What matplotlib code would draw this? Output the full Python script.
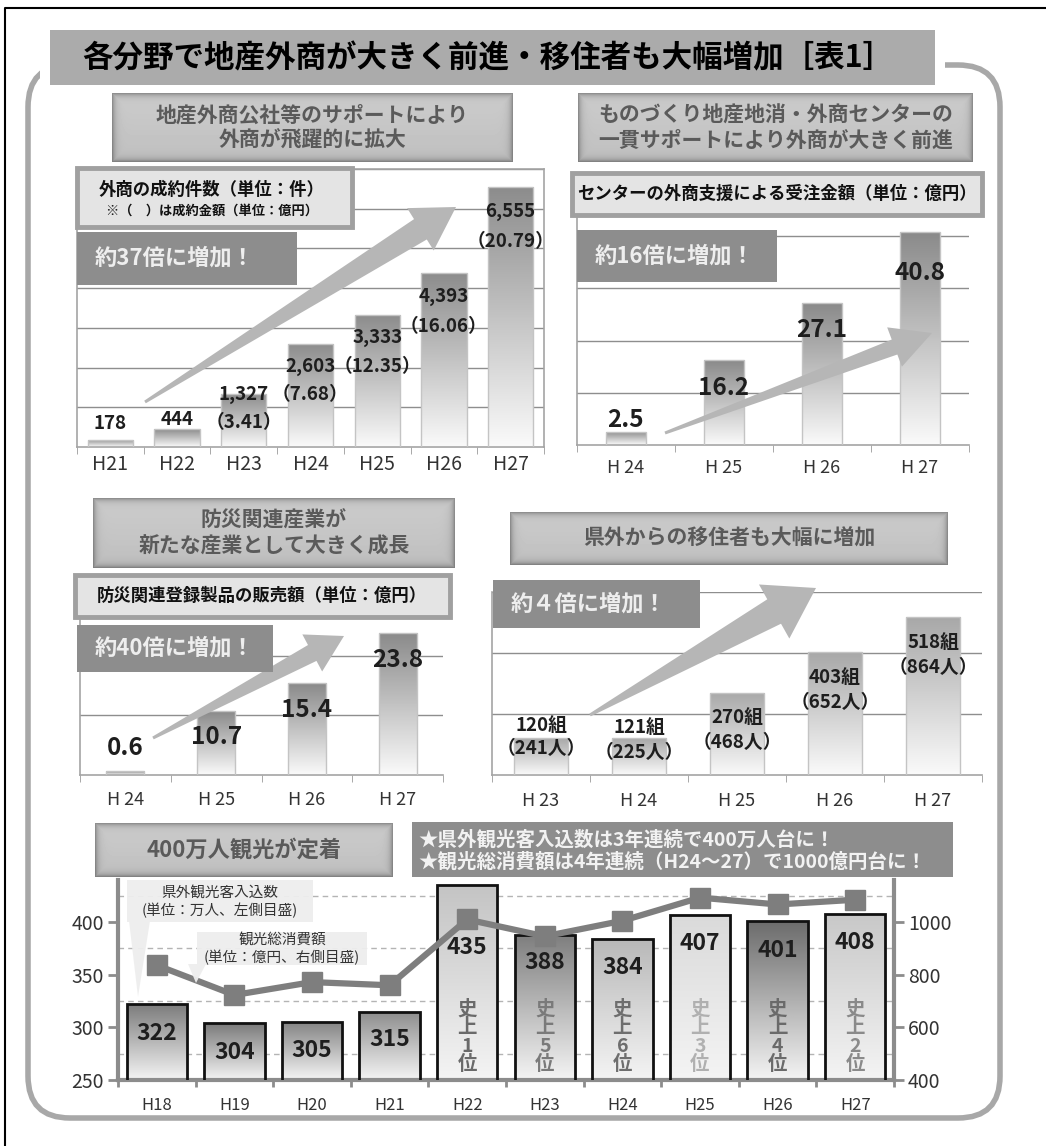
import numpy as np
import matplotlib
matplotlib.use('Agg')
import matplotlib.pyplot as plt
from matplotlib.patches import Rectangle, Polygon, FancyBboxPatch
from matplotlib.colors import LinearSegmentedColormap
from matplotlib.transforms import Affine2D

plt.rcParams['font.family'] = ['Noto Sans CJK JP', 'DejaVu Sans']

# ---- データ ----
# 外商の成約件数（件）と成約金額（億円）
p1_years = ['H21', 'H22', 'H23', 'H24', 'H25', 'H26', 'H27']
p1_counts = [178, 444, 1327, 2603, 3333, 4393, 6555]
p1_amounts = [None, None, 3.41, 7.68, 12.35, 16.06, 20.79]

# センターの外商支援による受注金額（億円）
p2_years = ['H 24', 'H 25', 'H 26', 'H 27']
p2_orders = [2.5, 16.2, 27.1, 40.8]

# 防災関連登録製品の販売額（億円）
p3_years = ['H 24', 'H 25', 'H 26', 'H 27']
p3_sales = [0.6, 10.7, 15.4, 23.8]

# 県外からの移住者（組・人）
p4_years = ['H 23', 'H 24', 'H 25', 'H 26', 'H 27']
p4_groups = [120, 121, 270, 403, 518]
p4_people = [241, 225, 468, 652, 864]

# 観光：県外観光客入込数（万人）と観光総消費額（億円）
p5_years = ['H18', 'H19', 'H20', 'H21', 'H22', 'H23', 'H24', 'H25', 'H26', 'H27']
p5_visitors = [322, 304, 305, 315, 435, 388, 384, 407, 401, 408]
p5_spending = [836, 723, 772, 760, 1010, 946, 1005, 1093, 1067, 1085]
p5_rank = [None, None, None, None, '1', '5', '6', '3', '4', '2']

# ---- レイアウト ----
W, H = 1046, 1146
fig = plt.figure(figsize=(W / 100, H / 100), dpi=100)
fig.patch.set_facecolor('white')
px = Affine2D().scale(1 / W, -1 / H).translate(0, 1) + fig.transFigure


def rect(x0, y0, x1, y1):
    return [x0 / W, 1 - y1 / H, (x1 - x0) / W, (y1 - y0) / H]


def overlay(z):
    a = fig.add_axes([0, 0, 1, 1], zorder=z)
    a.set_xlim(0, W)
    a.set_ylim(H, 0)
    a.axis('off')
    a.patch.set_alpha(0)
    return a


bg = overlay(0)
bg.plot([5, 5, W], [H, 8, 8], color='black', lw=1.5)
bg.add_patch(FancyBboxPatch((28, 65), 972, 1053, boxstyle='round,pad=0,rounding_size=42',
                            fc='none', ec='#a8a8a8', lw=4))
bg.add_patch(Rectangle((40, 26), 905, 64, fc='white', ec='none'))
bg.add_patch(Rectangle((50, 30), 885, 55, fc='#ababab', ec='none'))
bg.text(488, 58, '各分野で地産外商が大きく前進・移住者も大幅増加［表1］', ha='center', va='center',
        fontsize=22, fontweight='bold', color='black')


def header(x0, y0, x1, y1, text, size=15):
    a = fig.add_axes(rect(x0, y0, x1, y1))
    w, h = int(x1 - x0), int(y1 - y0)
    yy, xx = np.mgrid[0:h, 0:w]
    d = np.minimum(np.minimum(xx, w - 1 - xx), np.minimum(yy, h - 1 - yy))
    shade = 0.80 - 0.24 * np.exp(-d / 3.0) - 0.05 * yy / h
    a.imshow(shade, cmap='gray', vmin=0, vmax=1, aspect='auto', interpolation='bilinear')
    a.axis('off')
    a.text(0.5, 0.5, text, transform=a.transAxes, ha='center', va='center', fontsize=size,
           fontweight='bold', color='#5a5a5a', linespacing=1.25)


header(112, 93, 513, 162, '地産外商公社等のサポートにより\n外商が飛躍的に拡大')
header(578, 93, 973, 162, 'ものづくり地産地消・外商センターの\n一貫サポートにより外商が大きく前進')
header(93, 498, 455, 568, '防災関連産業が\n新たな産業として大きく成長')
header(510, 512, 948, 565, '県外からの移住者も大幅に増加')
header(95, 823, 393, 877, '400万人観光が定着', size=16)


def grad_bars(ax, vals, width, tops, bottom='#fafafa', edge='#c4c4c4', lw=1.0):
    x = np.arange(len(vals))
    bars = ax.bar(x, vals, width, color='none', edgecolor=edge, linewidth=lw, zorder=3)
    y_floor = ax.get_ylim()[0]
    for b, top in zip(bars, tops):
        cm = LinearSegmentedColormap.from_list('g', [bottom, top])
        y0 = max(b.get_y(), y_floor)
        im = ax.imshow(np.linspace(0, 1, 128).reshape(-1, 1), cmap=cm, origin='lower',
                       aspect='auto', interpolation='bilinear', zorder=2,
                       extent=[b.get_x(), b.get_x() + b.get_width(), y0, b.get_y() + b.get_height()])
        im.set_clip_path(b)
    return bars


def arrow(ax, x0, y0, x1, y1, w0, w1, hw, hl, color='#b6b6b6'):
    p0 = np.array([x0, y0], float)
    p1 = np.array([x1, y1], float)
    d = (p1 - p0) / np.hypot(*(p1 - p0))
    n = np.array([-d[1], d[0]])
    b = p1 - d * hl
    pts = [p0 + n * w0 / 2, b + n * w1 / 2, b + n * hw / 2, p1,
           b - n * hw / 2, b - n * w1 / 2, p0 - n * w0 / 2]
    ax.add_patch(Polygon(pts, closed=True, transform=px, fc=color, ec='none',
                         zorder=4, clip_on=False))


def style(ax, labels, ylim, yticks, pad, fs=13, spines=('left', 'bottom')):
    n = len(labels)
    ax.set_xlim(-0.5, n - 0.5)
    ax.set_ylim(*ylim)
    ax.set_yticks(yticks)
    ax.yaxis.grid(True, color='#8e8e8e', lw=1)
    ax.set_axisbelow(True)
    ax.tick_params(axis='y', length=0, labelleft=False)
    ax.set_xticks(range(n))
    ax.set_xticklabels(labels, fontsize=fs, color='#333333')
    ax.set_xticks(np.arange(-0.5, n), minor=True)
    ax.tick_params(axis='x', which='major', length=0, pad=pad)
    ax.tick_params(axis='x', which='minor', length=5, color='#9a9a9a', direction='out')
    for s in ax.spines:
        ax.spines[s].set_visible(s in spines)
        ax.spines[s].set_color('#a4a4a4')
        ax.spines[s].set_linewidth(1.2)


def label(ax, i, v, s, off, fs, color='#1e1e1e'):
    ax.annotate(s, (i, v), xytext=(0, off), textcoords='offset pixels', ha='center',
                va='center', fontsize=fs, fontweight='bold', color=color, zorder=6)


# ---- パネル1 ----
ax1 = fig.add_axes(rect(77, 169, 544, 447))
style(ax1, p1_years, (0, 7000), range(1000, 7001, 1000), 5, fs=14,
      spines=('left', 'bottom', 'right', 'top'))
grad_bars(ax1, p1_counts, 0.68, ['#8c8c8c'] * 7)
arrow(ax1, 145, 402, 456, 207, 3, 24, 50, 42)
num_off = [16, 10, 0, -23, -23, -24, -25]
par_off = [0, 0, -28, -51, -52, -54, -55]
for i, (c, a) in enumerate(zip(p1_counts, p1_amounts)):
    label(ax1, i, c, f'{c:,}', num_off[i], 13.5)
    if a is not None:
        label(ax1, i, c, f'（{a:.2f}）', par_off[i], 13.5)

# ---- パネル2 ----
ax2 = fig.add_axes(rect(577, 210, 969, 445))
style(ax2, p2_years, (0, 45), [10, 20, 30, 40], 10, fs=13)
grad_bars(ax2, p2_orders, 0.40, ['#8a8a8a'] * 4)
arrow(ax2, 665, 433, 932, 333, 3, 16, 42, 40)
for i, (v, off) in enumerate(zip(p2_orders, [12, -28, -27, -41])):
    label(ax2, i, v, f'{v}', off, 17.5)

# ---- パネル3 ----
ax3 = fig.add_axes(rect(80, 596, 443, 775))
style(ax3, p3_years, (0, 30), [10, 20, 30], 11.5, fs=13)
grad_bars(ax3, p3_sales, 0.42, ['#8a8a8a'] * 4)
arrow(ax3, 153, 738, 344, 636, 3, 18, 42, 36)
for i, (v, off) in enumerate(zip(p3_sales, [23, -26, -27, -27])):
    label(ax3, i, v, f'{v}', off, 17.5)

# ---- パネル4 ----
ax4 = fig.add_axes(rect(492, 592, 982, 775))
style(ax4, p4_years, (0, 600), [200, 400, 600], 12.5, fs=13)
grad_bars(ax4, p4_groups, 0.56, ['#a8a8a8'] * 5)
arrow(ax4, 590, 715, 816, 588, 3, 28, 62, 48)
g_off = [13, 11, -25, -25, -25]
p_off = [-10, -14, -50, -50, -50]
for i, (g, p) in enumerate(zip(p4_groups, p4_people)):
    label(ax4, i, g, f'{g}組', g_off[i], 13.5)
    label(ax4, i, g, f'（{p}人）', p_off[i], 13.5)

# ---- パネル5 ----
ax5 = fig.add_axes(rect(118, 880, 894, 1080))
ax5.set_xlim(-0.5, 9.5)
ax5.set_ylim(250, 440)
right_lim = (400, 1160)
for r in [500, 700, 900, 1100]:
    ax5.axhline(250 + (r - right_lim[0]) * (440 - 250) / (right_lim[1] - right_lim[0]),
                color='#b4b4b4', lw=1, ls=(0, (4, 3)), zorder=1)
tops5 = ['#7c7c7c', '#7a7a7a', '#858585', '#8d8d8d', '#c4c4c4',
         '#7e7e7e', '#b8b8b8', '#dadada', '#6c6c6c', '#c8c8c8']
grad_bars(ax5, p5_visitors, 0.78, tops5, bottom='#f4f4f4', edge='#111111', lw=2)
ax5.set_ylim(250, 440)
v_off = [-29, -29, -28, -28, -62, -28, -29, -29, -29, -29]
rank_col = ['#6a6a6a', '#7a7a7a', '#6e6e6e', '#b0b0b0', '#6a6a6a', '#8a8a8a']
for i, v in enumerate(p5_visitors):
    label(ax5, i, v, str(v), v_off[i], 16.5)
    if p5_rank[i] is not None:
        ax5.text(i, 291, '史\n上\n' + p5_rank[i] + '\n位', ha='center', va='center',
                 fontsize=14, fontweight='bold', color=rank_col[i - 4], linespacing=0.95, zorder=6)
ax5.set_yticks([250, 300, 350, 400])
ax5.set_xticks(range(10))
ax5.set_xticklabels(p5_years, fontsize=12, color='#333333')
ax5.set_xticks(np.arange(-0.5, 10), minor=True)
ax5.tick_params(axis='x', which='major', length=0, pad=12.5)
ax5.tick_params(axis='x', which='minor', length=5, width=2, color='#8c8c8c')
ax5.tick_params(axis='y', length=7, width=2, color='#8c8c8c', labelsize=14, labelcolor='#333333', pad=3)
for s in ['top', 'right']:
    ax5.spines[s].set_visible(False)
for s in ['left', 'bottom']:
    ax5.spines[s].set_color('#8c8c8c')
    ax5.spines[s].set_linewidth(3)

ax5r = ax5.twinx()
ax5r.plot(range(10), p5_spending, color='#7e7e7e', lw=4.5, marker='s', ms=14, zorder=5)
ax5r.set_ylim(*right_lim)
ax5r.set_yticks([400, 600, 800, 1000])
ax5r.tick_params(axis='y', length=7, width=2, color='#8c8c8c', labelsize=14, labelcolor='#333333', pad=3)
for s in ['top', 'left', 'bottom']:
    ax5r.spines[s].set_visible(False)
ax5r.spines['right'].set_color('#8c8c8c')
ax5r.spines['right'].set_linewidth(3)

# ---- 注記ボックス ----
fg = overlay(10)
fg.add_patch(Rectangle((77, 168), 275, 59, fc='#e4e4e4', ec='#a0a0a0', lw=3.5))
fg.text(212, 190, '外商の成約件数（単位：件）', ha='center', va='center', fontsize=12.5, fontweight='bold', color='#111')
fg.text(212, 211, '※（　）は成約金額（単位：億円）', ha='center', va='center', fontsize=9.5, fontweight='bold', color='#111')
fg.add_patch(Rectangle((572, 173), 410, 42, fc='#e4e4e4', ec='#a0a0a0', lw=3.5))
fg.text(777, 194, 'センターの外商支援による受注金額（単位：億円）', ha='center', va='center', fontsize=12.5, fontweight='bold', color='#111')
fg.add_patch(Rectangle((75, 575), 375, 42, fc='#e4e4e4', ec='#a0a0a0', lw=3.5))
fg.text(262, 596, '防災関連登録製品の販売額（単位：億円）', ha='center', va='center', fontsize=12.5, fontweight='bold', color='#111')

for (x0, y0, x1, y1, t) in [(77, 232, 297, 285, '約37倍に増加！'),
                            (577, 230, 777, 282, '約16倍に増加！'),
                            (77, 625, 273, 672, '約40倍に増加！'),
                            (493, 580, 700, 628, '約４倍に増加！')]:
    fg.add_patch(Rectangle((x0, y0), x1 - x0, y1 - y0, fc='#8d8d8d', ec='none'))
    fg.text(x0 + 18, (y0 + y1) / 2, t, ha='left', va='center', fontsize=16, fontweight='bold', color='#eeeeee')

fg.add_patch(Rectangle((412, 822), 541, 55, fc='#8d8d8d', ec='none'))
fg.text(418, 840, '★県外観光客入込数は3年連続で400万人台に！', ha='left', va='center',
        fontsize=14, fontweight='bold', color='#f2f2f2')
fg.text(418, 862, '★観光総消費額は4年連続（H24～27）で1000億円台に！', ha='left', va='center',
        fontsize=14, fontweight='bold', color='#f2f2f2')

fg.add_patch(Rectangle((127, 880), 186, 42, fc='#eeeeee', ec='none', alpha=0.95))
fg.add_patch(Polygon([(129, 921), (150, 921), (138, 997)], fc='#eeeeee', ec='none', alpha=0.95))
fg.text(220, 902, '県外観光客入込数\n(単位：万人、左側目盛)', ha='center', va='center',
        fontsize=10.5, color='#333333', linespacing=1.3)
fg.add_patch(Rectangle((197, 932), 170, 33, fc='#eeeeee', ec='none', alpha=0.95))
fg.add_patch(Polygon([(188, 964), (206, 964), (196, 983)], fc='#eeeeee', ec='none', alpha=0.95))
fg.text(282, 949, '観光総消費額\n(単位：億円、右側目盛)', ha='center', va='center',
        fontsize=10.5, color='#333333', linespacing=1.3)

fig.savefig('out.png', dpi=100)
